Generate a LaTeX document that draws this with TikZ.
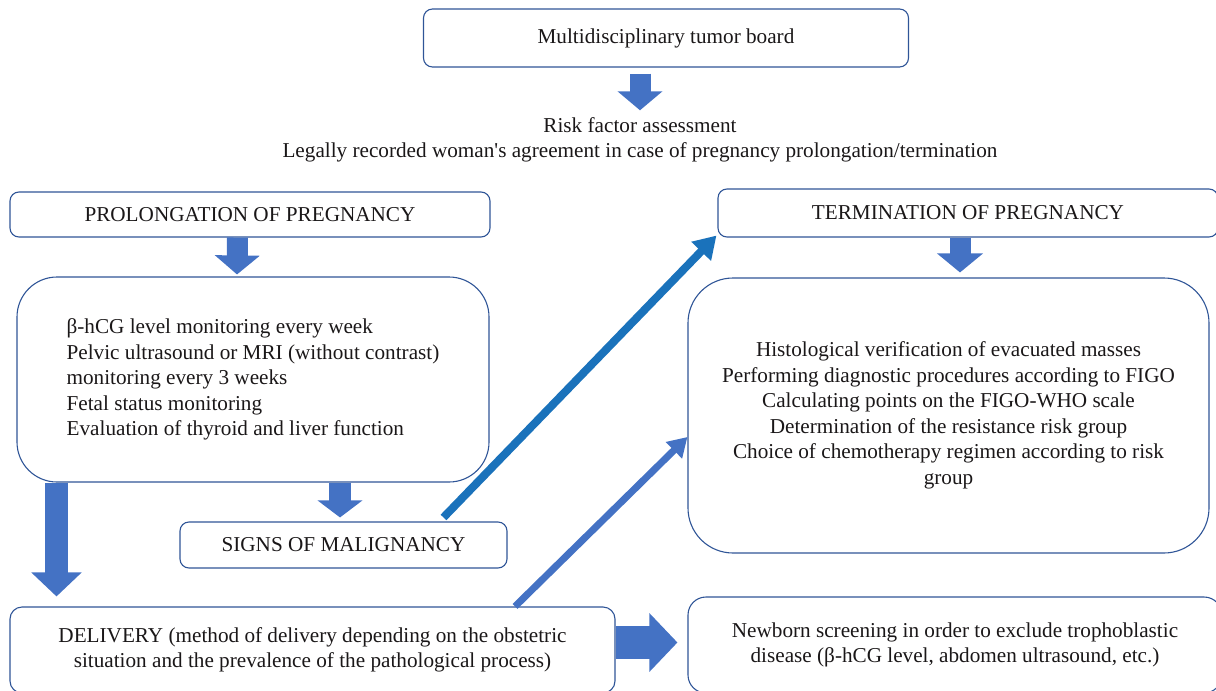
\documentclass[tikz,border=0pt]{standalone}
\usepackage{fontspec}
\setmainfont{Liberation Serif}[Ligatures=TeXOff]
\usetikzlibrary{arrows.meta,calc}
\definecolor{boxblue}{HTML}{2F5597}
\definecolor{arrblue}{HTML}{4472C4}
\definecolor{diagblue}{HTML}{1A72BB}
\definecolor{txt}{HTML}{1A1718}
\begin{document}
\begin{tikzpicture}[x=1pt,y=-1pt,
  box/.style={draw=boxblue, line width=1.1pt, rounded corners=#1, text=txt, align=center, inner sep=0pt,
    font=\fontsize{21.2}{25.5}\selectfont},
  box/.default=9pt,
  plain/.style={text=txt, align=center, inner sep=0pt, font=\fontsize{21.2}{25.5}\selectfont},
  blockarr/.style args={#1/#2/#3}{draw=arrblue, line width=#1pt, -{Triangle[width=#2pt,length=#3pt]}},
  diagarr/.style args={#1/#2/#3/#4}{draw=#4, line width=#1pt, -{Triangle[width=#2pt,length=#3pt]}}
]
\useasboundingbox (0,0) rectangle (1216,691);
\clip (0,0) rectangle (1216,691);

% nodes
\node[box, minimum width=485pt, minimum height=58pt] (tb) at (666,38) {Multidisciplinary tumor board};
\node[plain] (risk) at (640,140) {Risk factor assessment\\Legally recorded woman's agreement in case of pregnancy prolongation/termination};
\node[box, minimum width=480pt, minimum height=45pt] (pp) at (250,214.5) {PROLONGATION OF PREGNANCY};
\node[box=40pt, minimum width=472pt, minimum height=205pt, align=left] (pb) at (253,379.5)
  {β-hCG level monitoring every week\\Pelvic ultrasound or MRI (without contrast)\\monitoring every 3 weeks\\Fetal status monitoring\\Evaluation of thyroid and liver function};
\node[box, minimum width=327pt, minimum height=46pt] (sg) at (343.5,545) {SIGNS OF MALIGNANCY};
\node[box=12pt, minimum width=605pt, minimum height=86pt] (dl) at (312.5,650)
  {DELIVERY (method of delivery depending on the obstetric\\situation and the prevalence of the pathological process)};
\node[box, minimum width=500pt, minimum height=48pt] (tm) at (968,213) {TERMINATION OF PREGNANCY};
\node[box=45pt, minimum width=521pt, minimum height=275pt] (rb) at (948.5,415.5)
  {Histological verification of evacuated masses\\Performing diagnostic procedures according to FIGO\\Calculating points on the FIGO-WHO scale\\Determination of the resistance risk group\\Choice of chemotherapy regimen according to risk\\group};
\node[box=18pt, minimum width=534pt, minimum height=96pt] (nb) at (955,645)
  {Newborn screening in order to exclude trophoblastic\\disease (β-hCG level, abdomen ultrasound, etc.)};

% block arrows
\draw[blockarr=21/44/19] ($(tb.south)+(-26,6)$) -- ($(risk.north)+(0,-7)$);
\draw[blockarr=21/44/19] ($(pp.south)+(-12.5,0)$) -- ($(pb.north)+(-16,-2)$);
\draw[blockarr=21/45/19] ($(tm.south)+(-8,0)$) -- ($(rb.north)+(11.5,-5)$);
\draw[blockarr=23/49/24] ($(pb.south)+(-196.5,0)$) -- ($(dl.north)+(-256,-10)$);
\draw[blockarr=22/44/17] ($(pb.south)+(87,0)$) -- ($(sg.north)+(-3.5,-4)$);
\draw[blockarr=33/57/28] ($(dl.east)+(0,-7.5)$) -- ($(nb.west)+(-10,-2.5)$);

% diagonal arrows
\draw[diagarr=8/26/22/diagblue] ([xshift=100pt,yshift=4pt]sg.north) -- ([xshift=-1pt,yshift=2pt]tm.south west);
\draw[diagarr=7/22/19/arrblue] ([xshift=202.5pt]dl.north) -- ([yshift=-21.5pt]rb.west);
\end{tikzpicture}
\end{document}
